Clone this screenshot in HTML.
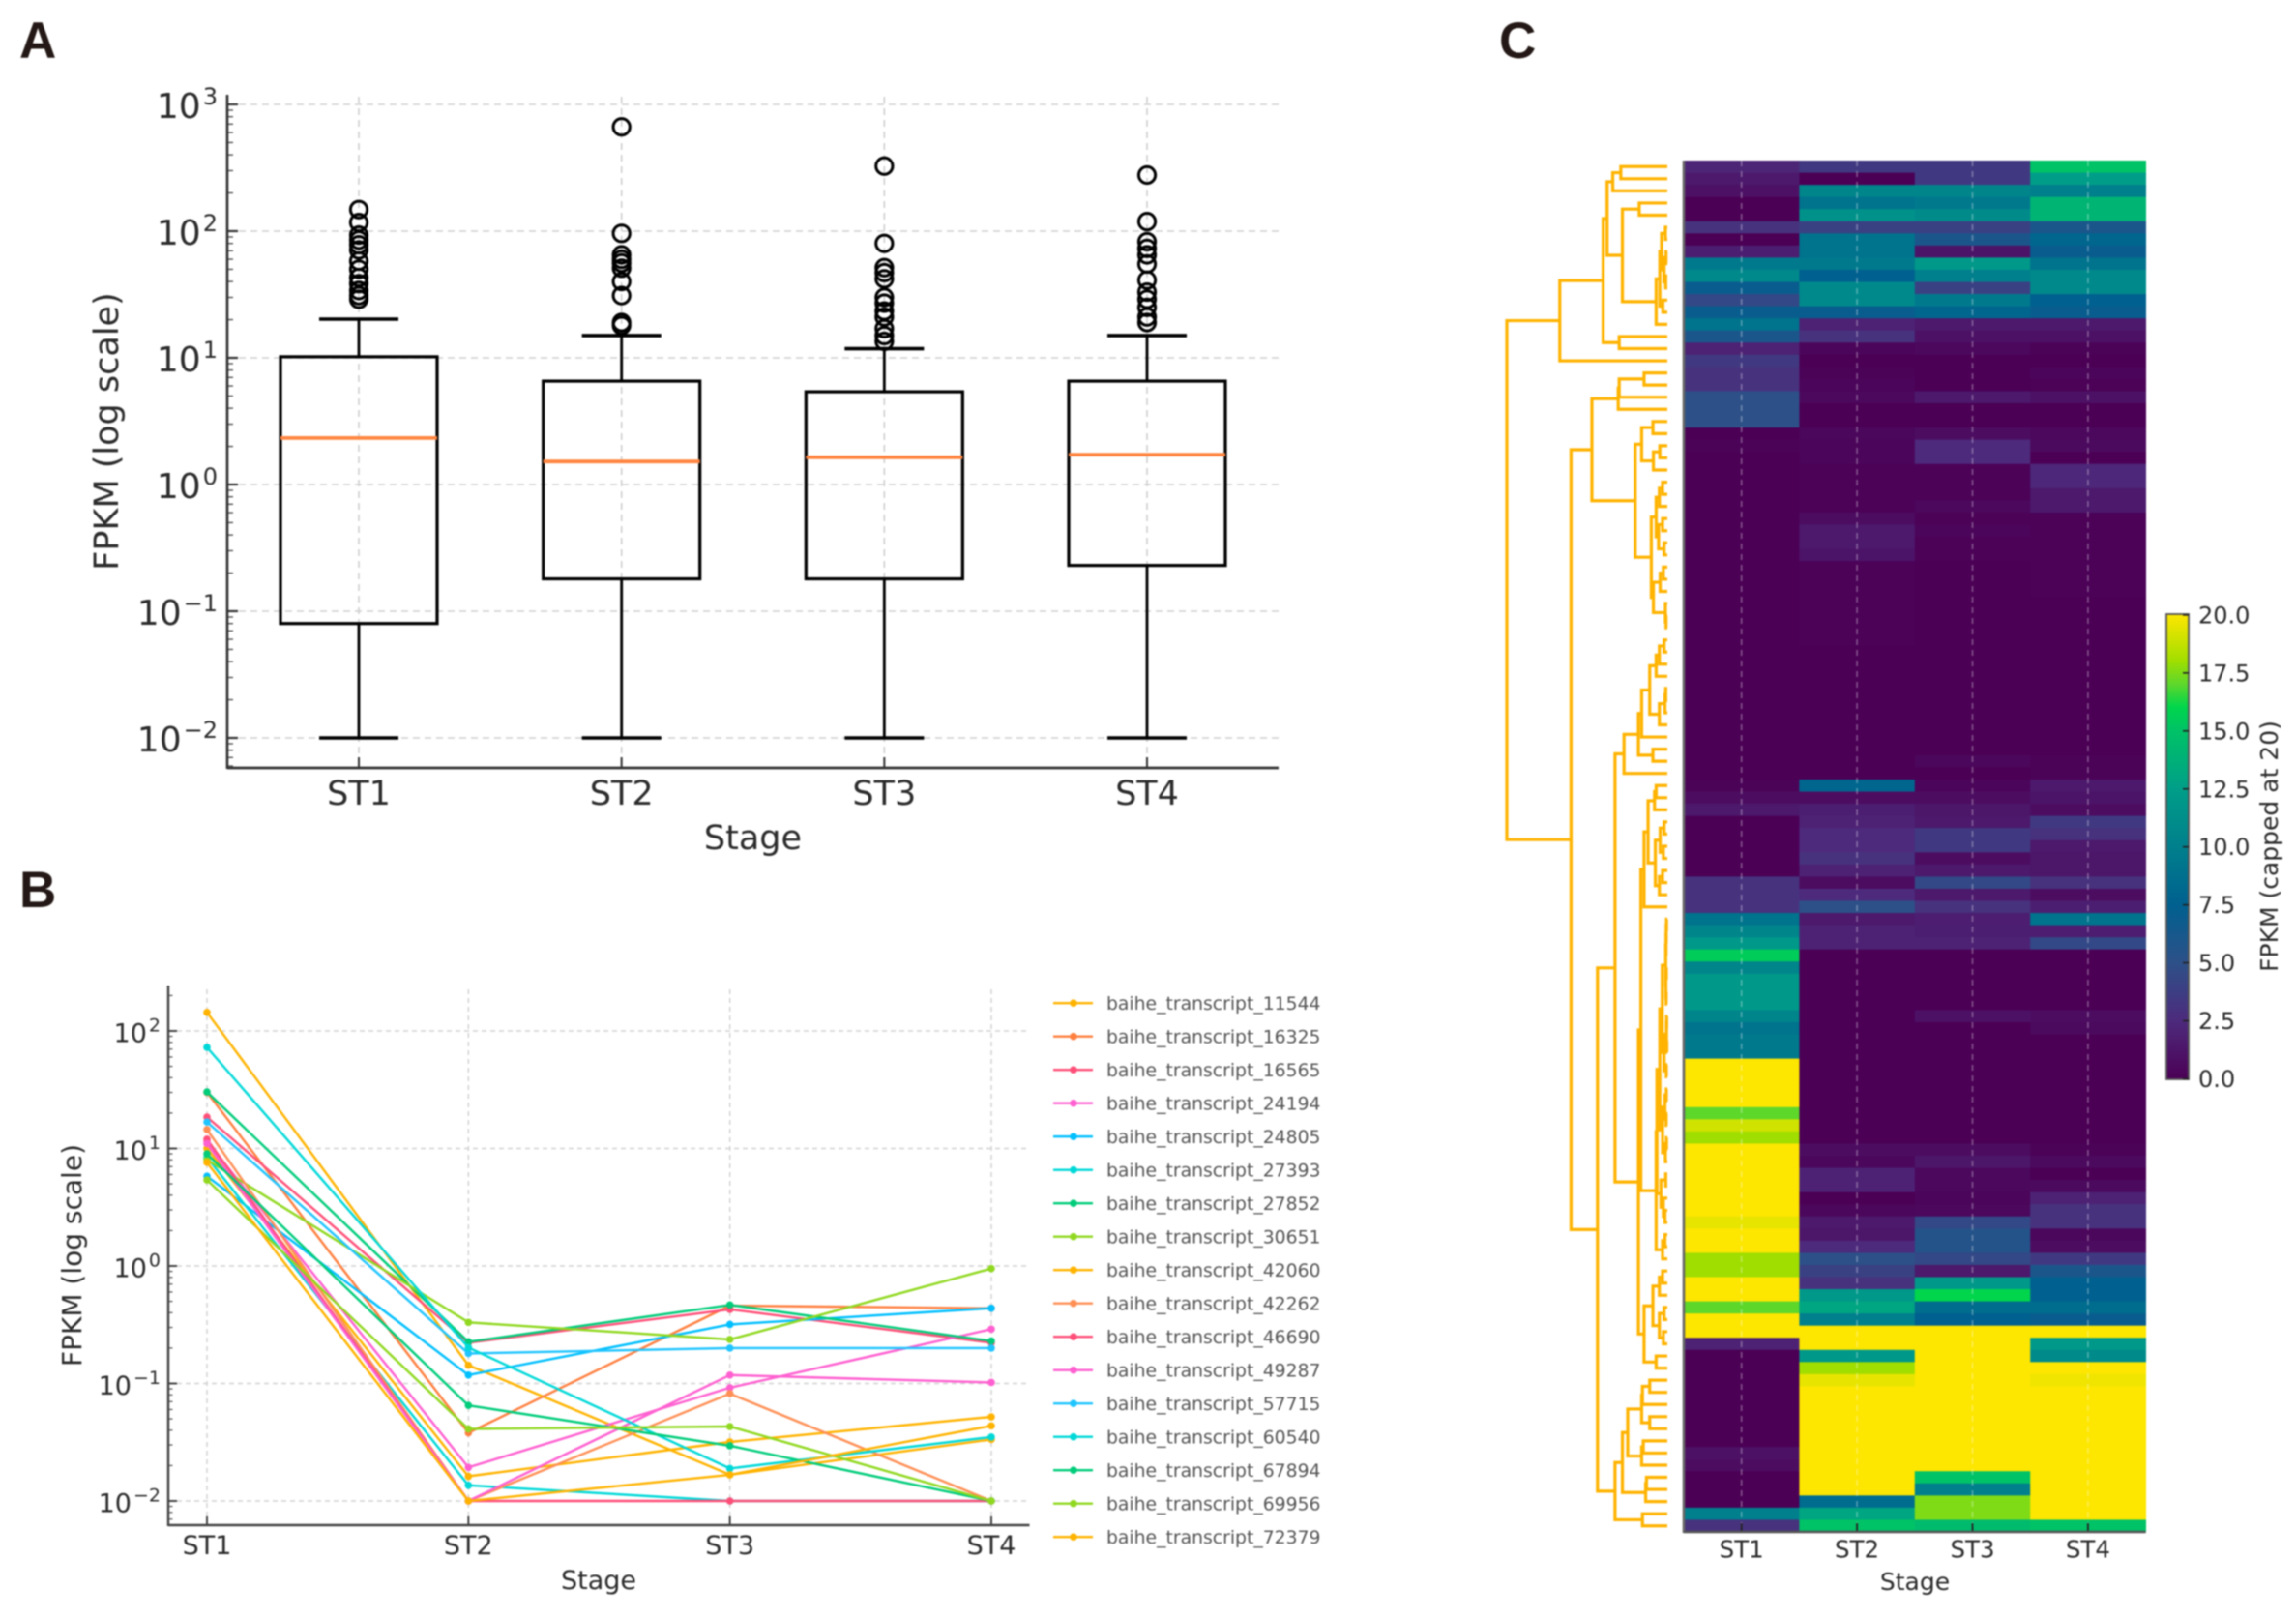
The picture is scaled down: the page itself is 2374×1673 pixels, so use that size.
<!DOCTYPE html>
<html lang="en">
<head>
<meta charset="utf-8">
<title>FPKM expression panels</title>
<style>
html,body{margin:0;padding:0;background:#fff;width:2374px;height:1673px;overflow:hidden}
svg{display:block;filter:blur(0.9px)}
text{font-family:"DejaVu Sans","Liberation Sans",sans-serif;fill:#2b2b2b}
.letter{font-family:"Liberation Sans",sans-serif;font-weight:700;font-size:53px;fill:#231815}
</style>
</head>
<body>
<svg id="figure" xmlns="http://www.w3.org/2000/svg" width="2374" height="1673" viewBox="0 0 2374 1673">
  <rect x="0" y="0" width="2374" height="1673" fill="#fff"/>
  <text class="letter" x="20" y="60">A</text>
  <text class="letter" x="20" y="938">B</text>
  <text class="letter" x="1550" y="60">C</text>

  <g id="panelA">
    <g id="aGrid"></g>
    <g id="aBoxes"></g>
    <g id="aAxes"></g>
    <text x="778.5" y="878" font-size="35" text-anchor="middle">Stage</text>
    <text x="122" y="446" font-size="35" text-anchor="middle" transform="rotate(-90 122 446)">FPKM (log scale)</text>
  </g>

  <g id="panelB">
    <g id="bGrid"></g>
    <g id="bLines"></g>
    <g id="bAxes"></g>
    <g id="bLegend"></g>
    <text x="619" y="1643" font-size="27" text-anchor="middle">Stage</text>
    <text x="84" y="1298" font-size="28" text-anchor="middle" transform="rotate(-90 84 1298)">FPKM (log scale)</text>
  </g>

  <g id="panelC">
    <g id="cDendro"></g>
    <g id="cCells"></g>
    <g id="cAxes"></g>
    <g id="cBar"></g>
    <text x="1980" y="1644" font-size="25" text-anchor="middle">Stage</text>
    <text x="2355" y="875" font-size="25" text-anchor="middle" transform="rotate(-90 2355 875)">FPKM (capped at 20)</text>
  </g>
  <defs>
    <linearGradient id="barGradient" x1="0" y1="1" x2="0" y2="0"></linearGradient>
  </defs>
</svg>
<script>
/* ---------- Panel A data ---------- */
const boxStages = ['ST1','ST2','ST3','ST4'];
const boxQ1 = [0.08,0.18,0.18,0.23];
const boxMedian = [2.33,1.52,1.64,1.72];
const boxQ3 = [10.2,6.55,5.4,6.55];
const whiskerLow = [0.01,0.01,0.01,0.01];
const whiskerHigh = [20.2,15,11.8,15];
const fliersST1 = [148,117,93,85,78,71,58,50,43,38.5,34,31,29];
const fliersST2 = [665,96,65,60,56,51,40,31,19,18];
const fliersST3 = [326,80,51.5,47,42,30,27,23.4,21,17,15,13.5];
const fliersST4 = [277,119,82.5,73,65,55,41,33,29,25,21,19];
const boxFliers = [fliersST1,fliersST2,fliersST3,fliersST4];
const boxDecades = [3,2,1,0,-1,-2];

/* ---------- Panel B data ---------- */
const lineStages = ['ST1','ST2','ST3','ST4'];
const lineDecades = [2,1,0,-1,-2];
const t11544 = [144,0.143,0.0167,0.0334];
const t16325 = [30,0.038,0.46,0.437];
const t16565 = [18.5,0.222,0.427,0.222];
const t24194 = [11.5,0.0193,0.092,0.29];
const t24805 = [5.8,0.118,0.318,0.437];
const t27393 = [8.4,0.0136,0.01,0.01];
const t27852 = [30.3,0.226,0.466,0.23];
const t30651 = [8,0.331,0.237,0.95];
const t42060 = [10,0.0162,0.0318,0.052];
const t42262 = [14.5,0.01,0.082,0.01];
const t46690 = [12,0.01,0.01,0.01];
const t49287 = [11,0.01,0.118,0.102];
const t57715 = [16.8,0.18,0.2,0.2];
const t60540 = [72.5,0.202,0.0189,0.035];
const t67894 = [9,0.065,0.0295,0.01];
const t69956 = [5.4,0.041,0.043,0.01];
const t72379 = [7.6,0.01,0.0167,0.0436];
const seriesNames = ['baihe_transcript_11544','baihe_transcript_16325','baihe_transcript_16565','baihe_transcript_24194','baihe_transcript_24805','baihe_transcript_27393','baihe_transcript_27852','baihe_transcript_30651','baihe_transcript_42060','baihe_transcript_42262','baihe_transcript_46690','baihe_transcript_49287','baihe_transcript_57715','baihe_transcript_60540','baihe_transcript_67894','baihe_transcript_69956','baihe_transcript_72379'];
const seriesValues = [t11544,t16325,t16565,t24194,t24805,t27393,t27852,t30651,t42060,t42262,t46690,t49287,t57715,t60540,t67894,t69956,t72379];

/* ---------- Panel C data ---------- */
const heatStages = ['ST1','ST2','ST3','ST4'];
const heatST1 = [2.2,1.5,1,0,0,3,0,1.8,9.5,10.8,
 7,4.5,7,9,6,2,3.5,3,3,5,
 5,5,0,.2,0,0,0,0,0,0,
 0,0,0,0,0,0,0,0,0,0,
 0,0,0,0,0,0,0,0,0,0,
 0,.2,.8,1.5,0,0,0,0,0,3,
 3,3,9,10.5,12,15.5,10.5,12,12,12,
 10.5,9,9.5,9.5,20,20,20,20,17,19,
 18,20,20,20,20,20,20,19.5,20,20,
 18,18,20,20,17,20,20,2,0,0,
 0,0,0,0,0,0,1,.8,0,0,
 0,10,3];
const heatST2 = [3.5,0,10.5,9,11.5,4,9,9,9.5,7.5,
 10.8,10.8,7,2,3,.3,0,.2,.3,.5,
 0,0,.4,.3,.3,.1,.1,.1,.1,.8,
 1.5,1.5,1.2,.1,.1,.1,.1,.1,.1,.1,
 0,0,0,0,0,0,0,0,0,0,
 0,8,.8,1.8,2,2.5,2.5,3,2,.7,
 2.5,5,1.5,2,2,0,0,0,0,0,
 0,0,0,0,0,0,0,0,0,0,
 0,.8,.4,2,2,0,.4,1.5,1.3,2.5,
 5,4,3,12,13,10,20,20,12,18,
 19.5,20,20,20,20,20,20,20,20,20,
 8.5,13,15];
const heatST3 = [3.5,3.5,10.5,9.5,11,4,6,1.2,12,10,
 4,9.5,8,1.5,1,.5,0,0,0,1.5,
 0,0,.8,2.5,2.5,.1,.1,.1,.5,.1,
 .3,.1,.1,0,0,0,0,0,0,0,
 0,0,0,0,0,0,0,0,0,.4,
 0,.3,.8,1.3,1.5,3.5,3.5,.8,1.5,4.5,
 1.5,3,1.7,1.8,2,0,0,0,0,0,
 1,0,0,0,0,0,0,0,0,0,
 0,.8,1.3,.5,.5,.3,.5,4.5,5.5,5.5,
 4.5,1.5,12,16,8.5,7.5,20,20,20,20,
 20,20,20,20,20,20,20,20,15,10,
 17.5,17.5,14.5];
const heatST4 = [15,12.5,10,14,14,6,8,7,9,10.8,
 10.8,7.5,7,1.5,1,.2,0,.3,.1,1,
 0,0,.5,.6,0,2.3,2.3,1.5,1.5,.1,
 .1,.1,.1,.1,.1,.1,0,0,0,0,
 0,0,0,0,0,0,0,0,0,.2,
 .2,1.5,1.2,.8,3.5,3,1.5,1.3,1.3,3,
 .8,1.8,9,1.7,4.5,0,0,0,0,0,
 .8,.6,0,0,0,0,0,0,0,0,
 0,.2,.6,0,.6,2,3,3,.4,.8,
 3.5,6,7.5,7.5,8.5,7,20,12,11,20,
 19.7,20,20,20,20,20,20,20,20,20,
 20,20,15];
const heatColumns = [heatST1,heatST2,heatST3,heatST4];
const barTicks = [0,2.5,5,7.5,10,12.5,15,17.5,20];
const L = null;
const dendroTree = [100,
 [67,
  [40,
   [37.5,
    [34,[29,L,L],L],
    [28,[17.5,L,L],
     [7,[4.7,[3.6,[1.2,L,L],[2,[0.8,L,L],[1,L,L]]],[2.8,L,L]],L]]],
   [30,L,L]],
  L],
 [60,
  [47,
   [30.6,[30,[14.5,L,L],L],L],
   [20,
    [16,[9,L,L],[8.7,[4.7,L,L],L]],
    [10,
     [7,[5,[3,L,L],L],[5.5,[3,L,L],[2,L,L]]],
     [8.7,[4.5,[2.5,L,L],L],[1.2,L,[0.8,L,L]]]]]],
  [43.5,
   [32.6,
    [27,
     [18,
      [16,
       [11,[7,[5,[2,L,L],L],L],[5,[1.5,[1,L,L],L],L]],
       L],
      [9,L,L]],
     L],
    [18,
     [16.5,
      [14.5,
       [12,[8,[7,L,L],L],[7.5,[4.5,[2,L,L],[2.5,L,L]],[5,[3,L,L],L]]],
       L],
      [7,
       [6.5,
        [4.7,
         [3.2,
          [1,[.8,[.7,[.5,L,L],L],L],[.9,[.6,L,L],[.7,L,L]]],
          [2,[.5,[.4,L,L],[.3,L,L]],[.6,L,L]]],
         [3,[1.5,[.6,L,L],[.7,L,L]],[1.2,[.5,L,L],L]]],
        [4,[1,L,L],[2.5,L,[1.5,L,L]]]],
       [3,[1.5,L,L],L]]],
     [14.5,
      [9,[5,[3,L,L],L],[5,[2,L,L],[2.5,L,L]]],
      [7,L,L]]]],
   [32.6,
    [28,
     [24.7,
      [16,[15.5,[11,L,L],L],[11,L,L]],
      [16,[15,L,L],L]],
     [13.5,[13,L,L],L]],
    [15.5,L,L]]]]];

/* ---------- Styles ---------- */
const seriesColors = ['#FFB300','#FF7F3F','#FF4F78','#FF5FD0','#00BFFF','#00D8D8','#00CC7A','#90D820','#FFB300','#FF8F55','#FF4F78','#FF5FD0','#20C4FF','#00D8D8','#00CC7A','#90D820','#FFB300'];
const colorStops = [[0,'#4B0055'],[2.5,'#4D2A7C'],[5,'#2D5088'],[7.5,'#00608F'],[10,'#007F8C'],[12.5,'#009E88'],[15,'#00C266'],[16,'#00D54C'],[17,'#5ED72B'],[18,'#A0DE00'],[19,'#D0E200'],[20,'#FDE600']];

/* ---------- Helpers ---------- */
const NS = 'http://www.w3.org/2000/svg';
function mk(tag, parentId, attrs){
  const el = document.createElementNS(NS, tag);
  for (const k in attrs) el.setAttribute(k, attrs[k]);
  (typeof parentId === 'string' ? document.getElementById(parentId) : parentId).appendChild(el);
  return el;
}
function powerLabel(parentId, x, y, exp, size, supSize, supRise){
  const el = mk('text', parentId, {x:x, y:y, 'font-size':size, 'text-anchor':'end'});
  const base = document.createElementNS(NS, 'tspan');
  base.textContent = '10';
  el.appendChild(base);
  const sup = document.createElementNS(NS, 'tspan');
  sup.setAttribute('font-size', supSize);
  sup.setAttribute('dy', -supRise);
  sup.setAttribute('dx', 2);
  sup.textContent = exp < 0 ? '\u2212' + Math.abs(exp) : String(exp);
  el.appendChild(sup);
  return el;
}
function hexToRgb(h){ return [parseInt(h.slice(1,3),16),parseInt(h.slice(3,5),16),parseInt(h.slice(5,7),16)]; }
function heatColor(v){
  const c = Math.max(0, Math.min(20, v));
  for (let i = 1; i < colorStops.length; i++){
    if (c <= colorStops[i][0]){
      const a = colorStops[i-1], b = colorStops[i];
      const t = (c - a[0]) / (b[0] - a[0]);
      const ca = hexToRgb(a[1]), cb = hexToRgb(b[1]);
      return 'rgb(' + ca.map((x,j)=>Math.round(x + (cb[j]-x)*t)).join(',') + ')';
    }
  }
  return colorStops[colorStops.length-1][1];
}

/* ---------- Panel A ---------- */
const aLeft = 235, aRight = 1322, aTop = 98, aBottom = 794;
const aX = i => 371 + i * 271.67;
const aY = v => 501 - 131 * Math.log10(v);
boxStages.forEach((s,i)=>{
  const el = mk('line','aGrid',{x1:aX(i),x2:aX(i),y1:aTop+2,y2:aBottom,stroke:'#cfcfcf','stroke-width':1.6,'stroke-dasharray':'7 5'});
  
  
});
boxDecades.forEach(d=>{
  const y = aY(Math.pow(10,d));
  const el = mk('line','aGrid',{x1:aLeft,x2:aRight,y1:y,y2:y,stroke:'#cfcfcf','stroke-width':1.6,'stroke-dasharray':'7 5'});
  
  
});
boxStages.forEach((s,i)=>{
  const g = mk('g','aBoxes',{});
  
  
  const x = aX(i), hw = 81, cap = 41;
  mk('line',g,{x1:x,x2:x,y1:aY(boxQ3[i]),y2:aY(whiskerHigh[i]),stroke:'#000','stroke-width':2.8});
  mk('line',g,{x1:x,x2:x,y1:aY(boxQ1[i]),y2:aY(whiskerLow[i]),stroke:'#000','stroke-width':2.8});
  mk('line',g,{x1:x-cap,x2:x+cap,y1:aY(whiskerHigh[i]),y2:aY(whiskerHigh[i]),stroke:'#000','stroke-width':3.6});
  mk('line',g,{x1:x-cap,x2:x+cap,y1:aY(whiskerLow[i]),y2:aY(whiskerLow[i]),stroke:'#000','stroke-width':3.6});
  mk('rect',g,{x:x-hw,y:aY(boxQ3[i]),width:2*hw,height:aY(boxQ1[i])-aY(boxQ3[i]),fill:'none',stroke:'#000','stroke-width':3.2});
  mk('line',g,{x1:x-hw,x2:x+hw,y1:aY(boxMedian[i]),y2:aY(boxMedian[i]),stroke:'#FF8540','stroke-width':3.8});
  boxFliers[i].forEach(v=>{
    mk('circle',g,{cx:x,cy:aY(v),r:8.6,fill:'none',stroke:'#000','stroke-width':3});
  });
  const lab = mk('text','aAxes',{x:x,y:832,'font-size':35,'text-anchor':'middle'});
  
  
  lab.textContent = s;
  mk('line','aAxes',{x1:x,x2:x,y1:aBottom-11,y2:aBottom,stroke:'#333','stroke-width':2});
});
boxDecades.forEach((d,idx)=>{
  const y = aY(Math.pow(10,d));
  mk('line','aAxes',{x1:aLeft,x2:aLeft+11,y1:y,y2:y,stroke:'#333','stroke-width':2.2});
  const lab = powerLabel('aAxes', 225, y+14, d, 36, 24, 14);
  
  
  for (let m = 2; m < 10; m++){
    const my = aY(m*Math.pow(10,d));
    if (my >= aTop) mk('line','aAxes',{x1:aLeft,x2:aLeft+6,y1:my,y2:my,stroke:'#555','stroke-width':1.4});
    const my2 = aY(m*Math.pow(10,d-1));
    if (d === -2 && my2 <= aBottom) mk('line','aAxes',{x1:aLeft,x2:aLeft+6,y1:my2,y2:my2,stroke:'#555','stroke-width':1.4});
  }
});
const aSpineL = mk('line','aAxes',{x1:aLeft,x2:aLeft,y1:aTop,y2:aBottom+1,stroke:'#333','stroke-width':2.6});


const aSpineB = mk('line','aAxes',{x1:aLeft,x2:aRight,y1:aBottom,y2:aBottom,stroke:'#333','stroke-width':2.8});



/* ---------- Panel B ---------- */
const bLeft = 174, bRight = 1064.5, bTop = 1019, bBottom = 1577;
const bX = i => 214 + i * 270.33;
const bY = v => 1309 - 121.5 * Math.log10(v);
lineStages.forEach((s,i)=>{
  const el = mk('line','bGrid',{x1:bX(i),x2:bX(i),y1:bTop+4,y2:bBottom,stroke:'#d2d2d2','stroke-width':1.5,'stroke-dasharray':'5 4'});
  
  
});
lineDecades.forEach(d=>{
  const y = bY(Math.pow(10,d));
  const el = mk('line','bGrid',{x1:bLeft,x2:bRight,y1:y,y2:y,stroke:'#d2d2d2','stroke-width':1.5,'stroke-dasharray':'5 4'});
  
  
});
seriesValues.forEach((vals,si)=>{
  const g = mk('g','bLines',{});
  
  
  const pts = vals.map((v,i)=>bX(i).toFixed(1)+','+bY(v).toFixed(1)).join(' ');
  mk('polyline',g,{points:pts,fill:'none',stroke:seriesColors[si],'stroke-width':2.4});
  vals.forEach((v,i)=>{
    mk('circle',g,{cx:bX(i),cy:bY(v),r:3.8,fill:seriesColors[si]});
  });
  const row = 1037.2 + si * 34.5;
  const entry = mk('g','bLegend',{});
  
  
  mk('line',entry,{x1:1089,x2:1130,y1:row,y2:row,stroke:seriesColors[si],'stroke-width':2.4});
  mk('circle',entry,{cx:1110,cy:row,r:3.8,fill:seriesColors[si]});
  const t = mk('text',entry,{x:1144,y:row+7,'font-size':18.8,style:'fill:#555'});
  t.textContent = seriesNames[si];
});
lineStages.forEach((s,i)=>{
  const x = bX(i);
  mk('line','bAxes',{x1:x,x2:x,y1:bBottom-9,y2:bBottom,stroke:'#333','stroke-width':1.8});
  const lab = mk('text','bAxes',{x:x,y:1607,'font-size':27,'text-anchor':'middle'});
  
  
  lab.textContent = s;
});
lineDecades.forEach(d=>{
  const y = bY(Math.pow(10,d));
  mk('line','bAxes',{x1:bLeft,x2:bLeft+9,y1:y,y2:y,stroke:'#333','stroke-width':1.8});
  const lab = powerLabel('bAxes', 166, y+11.5, d, 27, 19, 11);
  
  
  for (let m = 2; m < 10; m++){
    const my = bY(m*Math.pow(10,d));
    if (my >= bTop) mk('line','bAxes',{x1:bLeft,x2:bLeft+4.5,y1:my,y2:my,stroke:'#555','stroke-width':1.2});
    const my2 = bY(m*Math.pow(10,d-1));
    if (d === -2 && my2 <= bBottom) mk('line','bAxes',{x1:bLeft,x2:bLeft+4.5,y1:my2,y2:my2,stroke:'#555','stroke-width':1.2});
  }
});
const bSpineL = mk('line','bAxes',{x1:bLeft,x2:bLeft,y1:bTop,y2:bBottom+1,stroke:'#444','stroke-width':2.4});


const bSpineB = mk('line','bAxes',{x1:bLeft,x2:bRight,y1:bBottom,y2:bBottom,stroke:'#444','stroke-width':2.4});



/* ---------- Panel C ---------- */
const cLeft = 1741, cRight = 2218.6, cTop = 166, cBottom = 1584;
const rowCount = heatST1.length;
const rowH = (cBottom - cTop) / rowCount;
const colW = (cRight - cLeft) / heatColumns.length;
const cColX = i => cLeft + i * colW;
const cRowY = i => cTop + i * rowH;
const dendroX = d => 1724 - d * 1.66;
heatColumns.forEach((col,ci)=>{
  col.forEach((v,ri)=>{
    const cell = mk('rect','cCells',{x:cColX(ci),y:cRowY(ri),width:colW+0.4,height:rowH+0.4,fill:heatColor(v)});
    
    
  });
});
heatStages.forEach((s,i)=>{
  const x = cColX(i) + colW/2;
  mk('line','cAxes',{x1:x,x2:x,y1:cTop,y2:cBottom,stroke:'rgba(255,255,255,0.32)','stroke-width':1.6,'stroke-dasharray':'6 5'});
  mk('line','cAxes',{x1:x,x2:x,y1:cBottom-9,y2:cBottom,stroke:'#222','stroke-width':1.8});
  const lab = mk('text','cAxes',{x:x,y:1610.5,'font-size':24.5,'text-anchor':'middle'});
  
  
  lab.textContent = s;
});
const cSpineL = mk('line','cAxes',{x1:cLeft,x2:cLeft,y1:cTop,y2:cBottom+1,stroke:'#666','stroke-width':2.6});


const cSpineB = mk('line','cAxes',{x1:cLeft,x2:cRight,y1:cBottom,y2:cBottom,stroke:'#555','stroke-width':2.4});



let leafCounter = 0;
function drawNode(node){
  if (node === null){
    const y = cRowY(leafCounter) + rowH/2;
    leafCounter++;
    return {x: dendroX(0), y: y};
  }
  const a = drawNode(node[1]);
  const b = drawNode(node[2]);
  const x = dendroX(node[0]);
  const branch = mk('path','cDendro',{d:'M'+a.x+' '+a.y+'H'+x+'V'+b.y+'H'+b.x,fill:'none',stroke:'#FFB300','stroke-width':3.2});
  
  
  return {x: x, y: (a.y + b.y)/2};
}
drawNode(dendroTree);

/* ---------- Colorbar ---------- */
const grad = document.getElementById('barGradient');
colorStops.forEach(s=>{
  const st = document.createElementNS(NS,'stop');
  st.setAttribute('offset', s[0]/20);
  st.setAttribute('stop-color', s[1]);
  grad.appendChild(st);
});
const barLeft = 2240, barRight = 2263, barTop = 635, barBottom = 1116;
const barY = v => 1115.5 - v * 23.98;
const barRect = mk('rect','cBar',{x:barLeft,y:barTop,width:barRight-barLeft,height:barBottom-barTop,fill:'url(#barGradient)',stroke:'#555','stroke-width':1.8});


barTicks.forEach(v=>{
  const y = barY(v);
  mk('line','cBar',{x1:barRight-6,x2:barRight,y1:y,y2:y,stroke:'#222','stroke-width':1.6});
  const lab = mk('text','cBar',{x:2273,y:y+8.5,'font-size':24});
  
  
  lab.textContent = v.toFixed(1);
});
</script>
</body>
</html>
